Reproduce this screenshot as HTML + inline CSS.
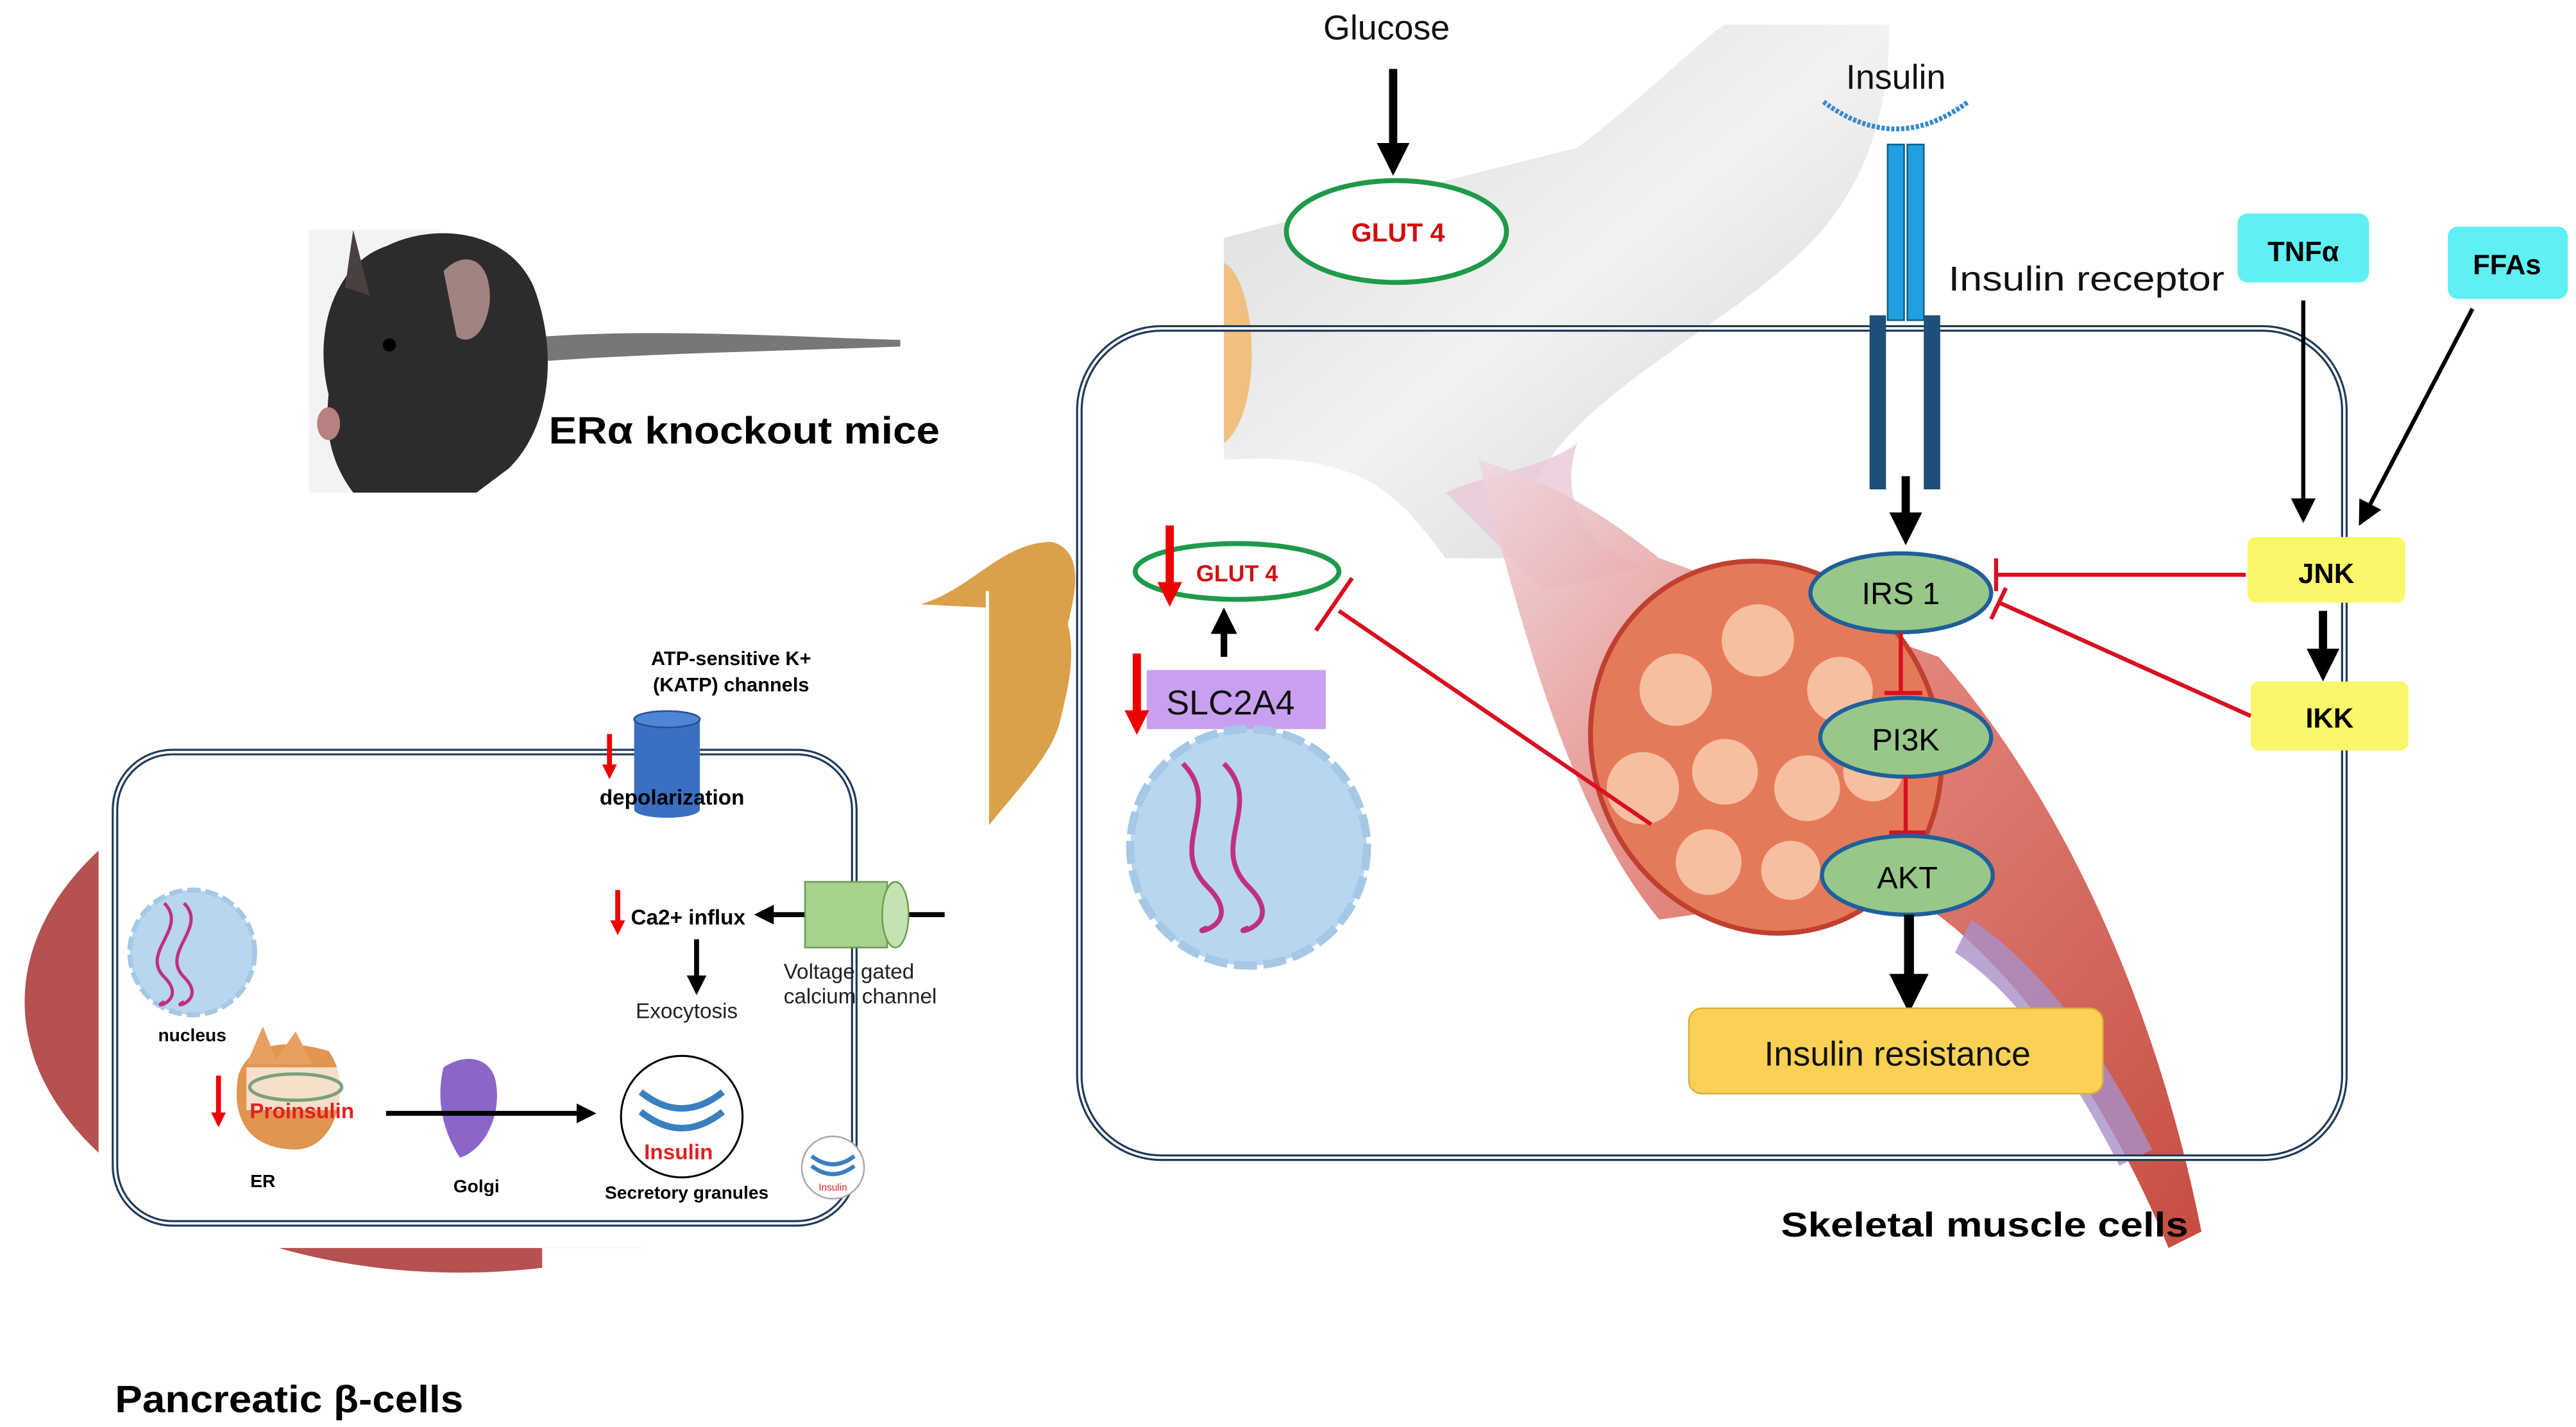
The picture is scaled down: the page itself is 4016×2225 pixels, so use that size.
<!DOCTYPE html>
<html><head><meta charset="utf-8">
<style>
html,body{margin:0;padding:0;background:#fff;}
svg{display:block;}
text{font-family:"Liberation Sans",sans-serif;}
</style></head>
<body>
<svg width="4016" height="2225" viewBox="0 0 1568 869" preserveAspectRatio="none" xmlns="http://www.w3.org/2000/svg">
<defs>
<marker id="ab" markerWidth="4" markerHeight="4" refX="2" refY="2" orient="auto" markerUnits="strokeWidth"><path d="M0,0 L4,2 L0,4 z" fill="#000"/></marker>
<marker id="ab2" markerWidth="6" markerHeight="6" refX="5" refY="3" orient="auto" markerUnits="strokeWidth"><path d="M0,0 L6,3 L0,6 z" fill="#000"/></marker>
<marker id="ar" markerWidth="3" markerHeight="3" refX="1.5" refY="1.5" orient="auto" markerUnits="strokeWidth"><path d="M0,0 L3,1.5 L0,3 z" fill="#e00"/></marker>
<linearGradient id="bone" x1="0" y1="0" x2="1" y2="1"><stop offset="0" stop-color="#d8d8d8"/><stop offset="0.5" stop-color="#f2f2f2"/><stop offset="1" stop-color="#cfcfcf"/></linearGradient>
<linearGradient id="fib" x1="0" y1="0" x2="1" y2="1"><stop offset="0" stop-color="#f0d8e0"/><stop offset="0.4" stop-color="#e07a70"/><stop offset="1" stop-color="#c0392b"/></linearGradient>
</defs>

<!-- mouse -->
<rect x="188" y="140" width="80" height="160" fill="#f3f3f3"/>
<path d="M330,205 C400,200 480,205 548,207 L548,211 C470,214 400,215 330,220 z" fill="#777"/>
<path d="M200,240 C190,200 205,160 235,150 C265,135 310,140 325,175 C340,215 335,260 310,285 L290,300 L215,300 C200,280 198,260 200,240 z" fill="#2e2b2c"/>
<path d="M270,165 C285,150 300,160 298,185 C295,205 285,210 278,205 z" fill="#a08480"/>
<path d="M210,175 L215,140 L225,180 z" fill="#4a4040"/>
<circle cx="237" cy="210" r="4" fill="#000"/>
<ellipse cx="200" cy="258" rx="7" ry="10" fill="#b88080"/>
<text x="334" y="270" font-size="23" font-weight="bold" fill="#000" textLength="238" lengthAdjust="spacingAndGlyphs">ERα knockout mice</text>

<!-- left red circle -->
<ellipse cx="280" cy="610" rx="265" ry="165" fill="#b5514f"/>
<rect x="60" y="365" width="500" height="395" fill="#fff"/>
<rect x="330" y="760" width="150" height="15" fill="#fff"/>
<rect x="0" y="760" width="150" height="20" fill="#fff"/>
<rect x="525" y="740" width="40" height="40" fill="#fff"/>

<!-- pancreatic cell -->
<rect x="70" y="458" width="450" height="287" rx="35" fill="none" stroke="#1f3a5a" stroke-width="4"/>
<rect x="70" y="458" width="450" height="287" rx="35" fill="none" stroke="#fff" stroke-width="1.5"/>
<text x="445" y="405" font-size="12" font-weight="bold" text-anchor="middle">ATP-sensitive K+</text>
<text x="445" y="421" font-size="12" font-weight="bold" text-anchor="middle">(KATP) channels</text>
<rect x="386" y="438" width="40" height="55" fill="#3a6fc2"/>
<ellipse cx="406" cy="438" rx="20" ry="5" fill="#4f85d6" stroke="#284f90"/>
<ellipse cx="406" cy="493" rx="20" ry="5" fill="#3a6fc2"/>
<line x1="371" y1="447" x2="371" y2="470" stroke="#e00" stroke-width="3" marker-end="url(#ar)"/>
<text x="365" y="490" font-size="13" font-weight="bold">depolarization</text>
<line x1="376" y1="542" x2="376" y2="565" stroke="#e00" stroke-width="3" marker-end="url(#ar)"/>
<text x="384" y="563" font-size="13" font-weight="bold">Ca2+ influx</text>
<line x1="575" y1="557" x2="465" y2="557" stroke="#000" stroke-width="3" marker-end="url(#ab)"/>
<rect x="490" y="537" width="50" height="40" fill="#a7d28c" stroke="#6a9e55"/>
<ellipse cx="545" cy="557" rx="8" ry="20" fill="#c4e3b0" stroke="#6a9e55"/>
<line x1="424" y1="572" x2="424" y2="600" stroke="#000" stroke-width="3" marker-end="url(#ab)"/>
<text x="418" y="620" font-size="13" text-anchor="middle" fill="#222">Exocytosis</text>
<text x="477" y="596" font-size="13" fill="#222">Voltage gated</text>
<text x="477" y="611" font-size="13" fill="#222">calcium channel</text>
<circle cx="117" cy="580" r="38" fill="#b8d6ef" stroke="#a5c8e6" stroke-width="3" stroke-dasharray="8 3"/>
<path d="M100,550 C115,565 85,580 100,595 C115,610 90,615 100,610" fill="none" stroke="#c03080" stroke-width="2"/>
<path d="M112,550 C127,565 97,580 112,595 C127,610 102,615 112,610" fill="none" stroke="#c03080" stroke-width="2"/>
<text x="117" y="634" font-size="11" font-weight="bold" text-anchor="middle">nucleus</text>
<path d="M145,655 C150,640 165,630 200,640 C215,660 205,700 180,700 C155,700 140,685 145,655 z" fill="#e09550"/>
<path d="M150,648 L160,625 L168,645 L180,628 L190,648 z" fill="#e8a060"/>
<rect x="150" y="650" width="62" height="26" fill="#fff" opacity="0.7"/>
<ellipse cx="180" cy="662" rx="28" ry="8" fill="none" stroke="#7aa080" stroke-width="2"/>
<line x1="133" y1="655" x2="133" y2="682" stroke="#e00" stroke-width="3" marker-end="url(#ar)"/>
<text x="152" y="681" font-size="13" font-weight="bold" fill="#e02020">Proinsulin</text>
<text x="160" y="723" font-size="11" font-weight="bold" text-anchor="middle">ER</text>
<path d="M270,650 C285,640 300,645 302,660 C305,680 295,700 280,705 C270,690 265,670 270,650 z" fill="#8a66c8"/>
<line x1="235" y1="678" x2="357" y2="678" stroke="#000" stroke-width="3" marker-end="url(#ab)"/>
<text x="290" y="726" font-size="11" font-weight="bold" text-anchor="middle">Golgi</text>
<circle cx="415" cy="680" r="37" fill="#fff" stroke="#000" stroke-width="1.2"/>
<path d="M390,665 Q415,685 440,665" fill="none" stroke="#3a7fc0" stroke-width="4"/>
<path d="M390,677 Q415,697 440,677" fill="none" stroke="#3a7fc0" stroke-width="4"/>
<text x="413" y="706" font-size="13" font-weight="bold" fill="#e02020" text-anchor="middle">Insulin</text>
<text x="418" y="730" font-size="11" font-weight="bold" text-anchor="middle">Secretory granules</text>
<circle cx="507" cy="711" r="19" fill="#fff" stroke="#aaa"/>
<path d="M494,704 Q507,714 520,704" fill="none" stroke="#3a7fc0" stroke-width="2.5"/>
<path d="M494,710 Q507,720 520,710" fill="none" stroke="#3a7fc0" stroke-width="2.5"/>
<text x="507" y="725" font-size="6" fill="#e02020" text-anchor="middle">Insulin</text>
<text x="70" y="860" font-size="23" font-weight="bold" textLength="212" lengthAdjust="spacingAndGlyphs">Pancreatic β-cells</text>

<!-- orange blob -->
<path d="M560,368 C590,360 610,330 640,330 C660,335 655,360 650,380 C655,400 650,420 645,440 C640,460 620,480 600,505 L600,370 z" fill="#dba04a"/>
<rect x="600" y="360" width="2" height="150" fill="#fff"/>

<!-- bone / vessel -->
<path d="M745,145 C800,130 880,110 960,90 C1000,60 1040,20 1050,15 L1150,15 C1150,60 1140,110 1100,150 C1060,190 1000,220 960,260 C930,290 920,320 930,340 L880,340 C850,300 830,275 745,280 z" fill="url(#bone)"/>
<path d="M745,160 C765,170 770,250 745,270 z" fill="#f0c080"/>
<path d="M880,300 C900,290 940,285 960,270 C950,300 960,330 1000,345 L940,360 C920,340 900,320 880,300 z" fill="#e8c8d8" opacity="0.8"/>

<!-- muscle fiber -->
<path d="M900,280 C930,290 960,300 1010,340 L1180,400 C1250,480 1310,600 1340,750 L1320,760 C1270,640 1200,560 1150,540 L1010,560 C960,500 930,400 900,280 z" fill="url(#fib)" opacity="0.9"/>
<ellipse cx="1075" cy="455" rx="105" ry="115" transform="rotate(-25 1075 455)" fill="#e57a5a" stroke="#c04030" stroke-width="3"/>
<g fill="#f5c0a0">
<circle cx="1020" cy="420" r="22"/><circle cx="1070" cy="390" r="22"/><circle cx="1120" cy="420" r="20"/>
<circle cx="1000" cy="480" r="22"/><circle cx="1050" cy="470" r="20"/><circle cx="1100" cy="480" r="20"/>
<circle cx="1040" cy="525" r="20"/><circle cx="1090" cy="530" r="18"/><circle cx="1140" cy="470" r="18"/>
</g>
<path d="M1200,560 C1230,580 1270,620 1310,700 L1290,710 C1255,640 1220,600 1190,580 z" fill="#a890c8" opacity="0.8"/>

<!-- muscle cell -->
<rect x="657" y="200" width="770" height="505" rx="50" fill="none" stroke="#1f3a5a" stroke-width="4"/>
<rect x="657" y="200" width="770" height="505" rx="50" fill="none" stroke="#fff" stroke-width="1.5"/>

<text x="844" y="24" font-size="21" text-anchor="middle" fill="#111">Glucose</text>
<line x1="848" y1="42" x2="848" y2="97" stroke="#000" stroke-width="5" marker-end="url(#ab)"/>
<ellipse cx="850" cy="141" rx="67" ry="31" fill="#fff" stroke="#1e9a4a" stroke-width="3"/>
<text x="851" y="147" font-size="16" font-weight="bold" fill="#d01010" text-anchor="middle">GLUT 4</text>

<text x="1154" y="54" font-size="21" text-anchor="middle" fill="#111">Insulin</text>
<path d="M1110,62 Q1154,95 1198,62" fill="none" stroke="#3a8ac8" stroke-width="3" stroke-dasharray="2 1"/>
<rect x="1149" y="88" width="10" height="107" fill="#20a0e0" stroke="#10608a"/>
<rect x="1161" y="88" width="10" height="107" fill="#20a0e0" stroke="#10608a"/>
<rect x="1138" y="192" width="10" height="106" fill="#1f4e78"/>
<rect x="1171" y="192" width="10" height="106" fill="#1f4e78"/>
<text x="1186" y="177" font-size="21" fill="#111" textLength="168" lengthAdjust="spacingAndGlyphs">Insulin receptor</text>
<line x1="1160" y1="290" x2="1160" y2="322" stroke="#000" stroke-width="5" marker-end="url(#ab)"/>

<rect x="1362" y="130" width="80" height="42" rx="6" fill="#5ff0f4"/>
<text x="1402" y="159" font-size="17" font-weight="bold" text-anchor="middle">TNFα</text>
<rect x="1490" y="138" width="73" height="44" rx="6" fill="#5ff0f4"/>
<text x="1526" y="167" font-size="17" font-weight="bold" text-anchor="middle">FFAs</text>
<line x1="1402" y1="183" x2="1402" y2="316" stroke="#000" stroke-width="2.5" marker-end="url(#ab2)"/>
<line x1="1505" y1="188" x2="1437" y2="318" stroke="#000" stroke-width="2.5" marker-end="url(#ab2)"/>
<rect x="1368" y="327" width="96" height="40" rx="5" fill="#fbf76a"/>
<text x="1416" y="355" font-size="17" font-weight="bold" text-anchor="middle">JNK</text>
<rect x="1370" y="415" width="96" height="42" rx="5" fill="#fbf76a"/>
<text x="1418" y="443" font-size="17" font-weight="bold" text-anchor="middle">IKK</text>
<line x1="1414" y1="372" x2="1414" y2="405" stroke="#000" stroke-width="5" marker-end="url(#ab)"/>

<line x1="1367" y1="350" x2="1215" y2="350" stroke="#d81020" stroke-width="2.5"/>
<line x1="1215" y1="340" x2="1215" y2="360" stroke="#d81020" stroke-width="2.5"/>
<line x1="1370" y1="436" x2="1217" y2="367" stroke="#d81020" stroke-width="2.5"/>
<line x1="1212" y1="377" x2="1221" y2="358" stroke="#d81020" stroke-width="2.5"/>

<ellipse cx="1157" cy="361" rx="55" ry="24" fill="#98c78a" stroke="#1f5f9a" stroke-width="2.5"/>
<text x="1157" y="368" font-size="19" text-anchor="middle">IRS 1</text>
<line x1="1157" y1="385" x2="1157" y2="422" stroke="#d81020" stroke-width="2.5"/>
<line x1="1147" y1="422" x2="1170" y2="422" stroke="#d81020" stroke-width="2.5"/>
<ellipse cx="1160" cy="449" rx="52" ry="24" fill="#98c78a" stroke="#1f5f9a" stroke-width="2.5"/>
<text x="1160" y="457" font-size="19" text-anchor="middle">PI3K</text>
<line x1="1160" y1="473" x2="1160" y2="507" stroke="#d81020" stroke-width="2.5"/>
<line x1="1150" y1="507" x2="1172" y2="507" stroke="#d81020" stroke-width="2.5"/>
<ellipse cx="1161" cy="533" rx="52" ry="24" fill="#98c78a" stroke="#1f5f9a" stroke-width="2.5"/>
<text x="1161" y="541" font-size="19" text-anchor="middle">AKT</text>
<line x1="1162" y1="557" x2="1162" y2="605" stroke="#000" stroke-width="6" marker-end="url(#ab)"/>
<rect x="1028" y="614" width="252" height="52" rx="8" fill="#fbd155" stroke="#d8b040"/>
<text x="1155" y="649" font-size="21" text-anchor="middle" fill="#111">Insulin resistance</text>
<text x="1084" y="753" font-size="21" font-weight="bold" textLength="248" lengthAdjust="spacingAndGlyphs">Skeletal muscle cells</text>

<!-- left inner muscle -->
<ellipse cx="753" cy="348" rx="62" ry="17" fill="#fff" stroke="#1e9a4a" stroke-width="3"/>
<text x="753" y="354" font-size="14" font-weight="bold" fill="#d01010" text-anchor="middle">GLUT 4</text>
<line x1="712" y1="320" x2="712" y2="362" stroke="#e00" stroke-width="5" marker-end="url(#ar)"/>
<line x1="745" y1="400" x2="745" y2="378" stroke="#000" stroke-width="4" marker-end="url(#ab)"/>
<rect x="698" y="408" width="109" height="36" fill="#c9a0f0"/>
<text x="749" y="435" font-size="21" fill="#111" text-anchor="middle">SLC2A4</text>
<line x1="692" y1="398" x2="692" y2="440" stroke="#e00" stroke-width="5" marker-end="url(#ar)"/>
<line x1="1005" y1="502" x2="815" y2="372" stroke="#d81020" stroke-width="2.5"/>
<line x1="801" y1="384" x2="823" y2="352" stroke="#d81020" stroke-width="2.5"/>
<circle cx="760" cy="516" r="72" fill="#b8d6ef" stroke="#a5c8e6" stroke-width="5" stroke-dasharray="14 4"/>
<path d="M720,465 C745,490 710,515 735,540 C760,565 720,570 735,565" fill="none" stroke="#c03080" stroke-width="3"/>
<path d="M745,465 C770,490 735,515 760,540 C785,565 745,570 760,565" fill="none" stroke="#c03080" stroke-width="3"/>
</svg>
</body></html>
